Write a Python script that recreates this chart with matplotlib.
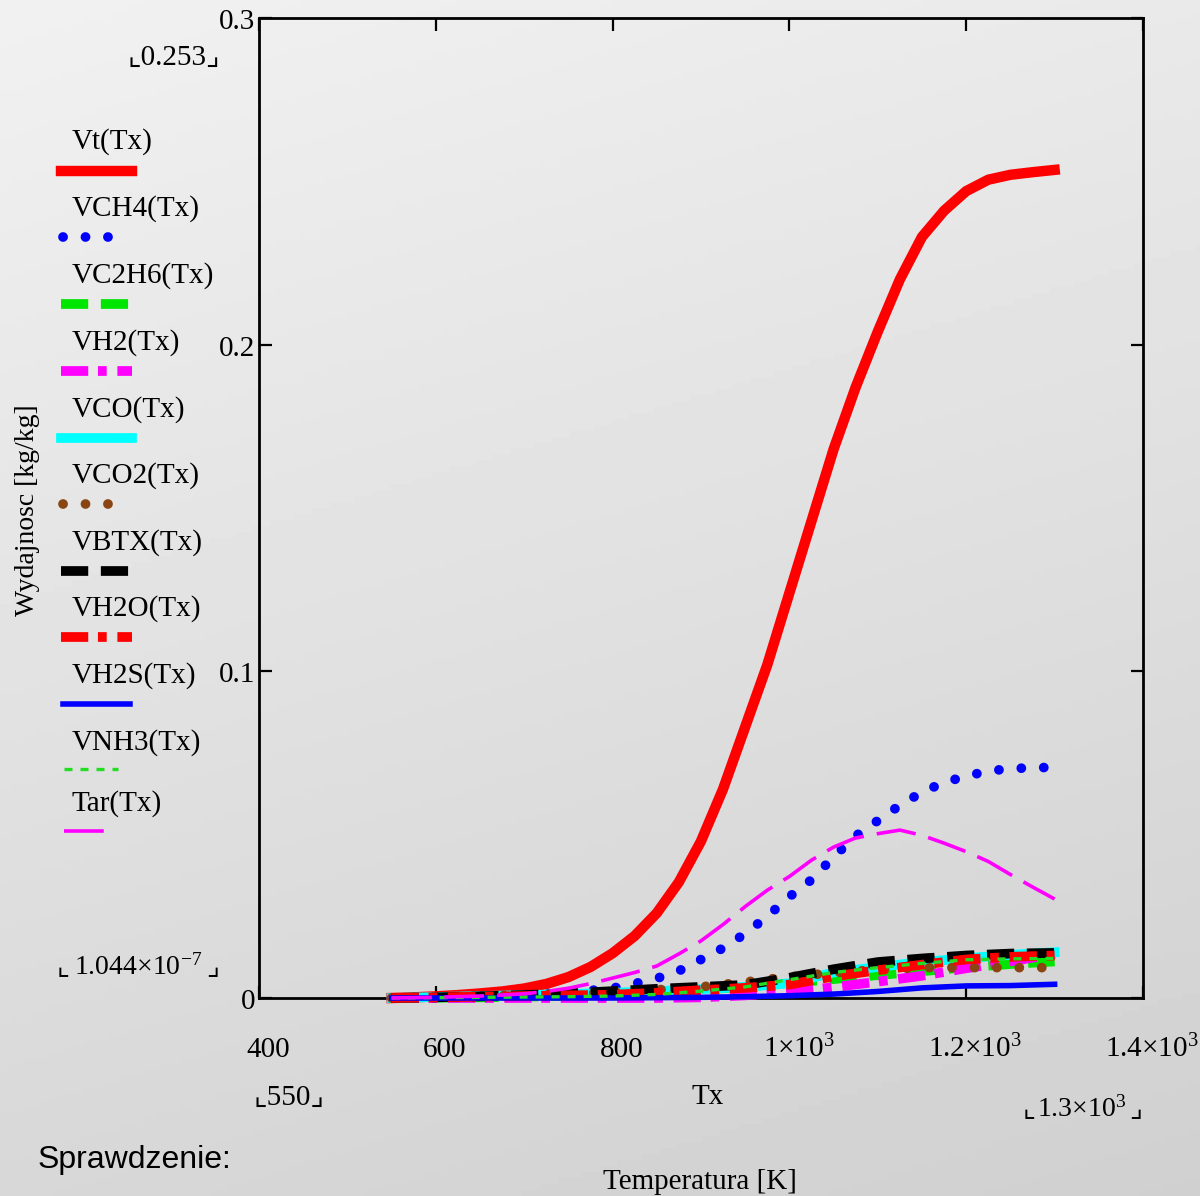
import numpy as np
import matplotlib.pyplot as plt
from matplotlib.lines import Line2D
import matplotlib.transforms as mtransforms

# temperatura [K] - gesta siatka dla glownych krzywych
T_fine = [550, 575, 600, 625, 650, 675, 700, 725, 750, 775, 800, 825, 850, 875, 900,
          925, 950, 975, 1000, 1025, 1050, 1075, 1100, 1125, 1150, 1175, 1200, 1225,
          1250, 1275, 1300]
Vt = [0.0, 0.0002, 0.0005, 0.0009, 0.0014, 0.0020, 0.0029, 0.0043, 0.0064, 0.0095,
      0.0137, 0.0190, 0.0260, 0.0355, 0.0480, 0.0640, 0.0830, 0.1020, 0.1240, 0.1460,
      0.1680, 0.1870, 0.2040, 0.2200, 0.2330, 0.2410, 0.2470, 0.2505, 0.2520, 0.2528,
      0.2535]
VCH4 = [0.0, 0.0001, 0.0002, 0.0003, 0.0005, 0.0007, 0.0010, 0.0013, 0.0017, 0.0023,
        0.0030, 0.0044, 0.0060, 0.0083, 0.0118, 0.0153, 0.0197, 0.0250, 0.0310, 0.0362,
        0.0432, 0.0496, 0.0543, 0.0590, 0.0630, 0.0660, 0.0679, 0.0695, 0.0702, 0.0705,
        0.0706]
Tar = [0.0, 0.0001, 0.0002, 0.0004, 0.0006, 0.0009, 0.0013, 0.0020, 0.0030, 0.0044,
       0.0061, 0.0078, 0.0098, 0.0135, 0.0175, 0.0225, 0.0280, 0.0330, 0.0372, 0.0422,
       0.0462, 0.0490, 0.0503, 0.0514, 0.0498, 0.0474, 0.0448, 0.0418, 0.0378, 0.0340,
       0.0303]

# rzadsza siatka dla pozostalych skladnikow
T_coarse = [550, 600, 650, 700, 750, 800, 850, 900, 950, 1000, 1050, 1100, 1150, 1200,
            1250, 1300]
VC2H6 = [0.0, 0.0001, 0.0002, 0.0004, 0.0007, 0.0011, 0.0017, 0.0025, 0.0035, 0.0046,
         0.0058, 0.0070, 0.0082, 0.0094, 0.0104, 0.0112]
VH2 = [0.0, 0.0, 0.0, 0.0, 0.0, 0.0, 0.0, 0.0002, 0.0008, 0.0018, 0.0033, 0.0050,
       0.0068, 0.0091, 0.0112, 0.0135]
VCO = [0.0, 0.0003, 0.0006, 0.0009, 0.0012, 0.0016, 0.0021, 0.0027, 0.0034, 0.0045,
       0.0078, 0.0095, 0.0110, 0.0122, 0.0132, 0.0140]
VCO2 = [0.0, 0.0003, 0.0006, 0.0009, 0.0013, 0.0017, 0.0025, 0.0034, 0.0049, 0.0065,
        0.0077, 0.0087, 0.0093, 0.0093, 0.0093, 0.0093]
VBTX = [0.0, 0.0002, 0.0005, 0.0009, 0.0014, 0.0021, 0.0028, 0.0034, 0.0040, 0.0062,
        0.0088, 0.0110, 0.0121, 0.0130, 0.0136, 0.0138]
VH2O = [0.0, 0.0002, 0.0004, 0.0006, 0.0008, 0.0010, 0.0016, 0.0024, 0.0031, 0.0041,
        0.0066, 0.0085, 0.0102, 0.0118, 0.0126, 0.0130]
VH2S = [0.0, 0.0, 0.0, 0.0, 0.0, 0.0, 0.0001, 0.0002, 0.0004, 0.0007, 0.0012, 0.0020,
        0.0031, 0.0037, 0.0038, 0.0042]
VNH3 = [0.0, 0.0001, 0.0002, 0.0003, 0.0004, 0.0006, 0.0011, 0.0021, 0.0034, 0.0056,
        0.0078, 0.0093, 0.0106, 0.0117, 0.0120, 0.0121]

x_ticks = [400, 600, 800, 1000, 1200, 1400]
x_tick_labels = ['400', '600', '800', '1×$10^{3}$', '1.2×$10^{3}$', '1.4×$10^{3}$']
y_ticks = [0, 0.1, 0.2, 0.3]
y_tick_labels = ['0', '0.1', '0.2', '0.3']

plt.rcParams['font.family'] = ['Liberation Serif', 'DejaVu Sans']
plt.rcParams['mathtext.fontset'] = 'custom'
plt.rcParams['mathtext.rm'] = 'Liberation Serif'
plt.rcParams['mathtext.it'] = 'Liberation Serif'
plt.rcParams['mathtext.default'] = 'regular'

W, H = 1200, 1196
fig = plt.figure(figsize=(W / 100, H / 100), dpi=100)


def fx(px):
    return px / W


def fy(py):
    return 1 - py / H


# szare tlo jak w Mathcadzie
bg = fig.add_axes([0, 0, 1, 1], zorder=-10)
yy, xx = np.mgrid[0:1:200j, 0:1:200j]
bg.imshow(0.945 - 0.10 * yy - 0.03 * xx, cmap='gray', vmin=0, vmax=1,
          aspect='auto', extent=[0, 1, 0, 1], origin='upper')
bg.axis('off')

ax = fig.add_axes([fx(259), fy(998), (1143 - 259) / W, (998 - 18) / H])
ax.patch.set_alpha(0)

dot = (0, (0.01, 2.3))
series = [
    ('Vt(Tx)', T_fine, Vt, dict(color='#ff0000', lw=7.5, ls='-')),
    ('VCH4(Tx)', T_fine, VCH4, dict(color='#0000ff', lw=7, ls=dot, dash_capstyle='round')),
    ('VC2H6(Tx)', T_coarse, VC2H6, dict(color='#00e600', lw=7, ls=(0, (2.8, 1.3)))),
    ('VH2(Tx)', T_coarse, VH2, dict(color='#ff00ff', lw=7, ls=(0, (2.8, 1.0, 0.9, 1.1)))),
    ('VCO(Tx)', T_coarse, VCO, dict(color='#00ffff', lw=7, ls='-')),
    ('VCO2(Tx)', T_coarse, VCO2, dict(color='#8b4513', lw=7, ls=dot, dash_capstyle='round')),
    ('VBTX(Tx)', T_coarse, VBTX, dict(color='#000000', lw=7, ls=(0, (2.8, 1.3)))),
    ('VH2O(Tx)', T_coarse, VH2O, dict(color='#ff0000', lw=7, ls=(0, (2.8, 1.0, 0.9, 1.1)))),
    ('VH2S(Tx)', T_coarse, VH2S, dict(color='#0000ff', lw=4, ls='-')),
    ('VNH3(Tx)', T_coarse, VNH3, dict(color='#22dd22', lw=2.4, ls=(0, (2.4, 2.4)))),
    ('Tar(Tx)', T_fine, Tar, dict(color='#ff00ff', lw=2.6, ls=(0, (11, 3.6)))),
]

for i, (name, tx, vals, st) in enumerate(series):
    ax.plot(tx, vals, clip_on=False, zorder=3 + i, **st)

ax.set_xlim(400, 1400)
ax.set_ylim(0, 0.3)
ax.set_xticks(x_ticks)
ax.set_yticks(y_ticks)
ax.tick_params(direction='in', length=9, width=1.6, top=True, right=True,
               labelbottom=False, labelleft=False)
for s in ax.spines.values():
    s.set_linewidth(2)

# opisy osi w stylu Mathcada
tr_x = mtransforms.offset_copy(ax.get_xaxis_transform(), fig=fig, x=9, y=0, units='dots')
for v, lab in zip(x_ticks, x_tick_labels):
    ax.text(v, -0.06, lab, transform=tr_x, ha='center', va='baseline', fontsize=21)
tr_y = mtransforms.offset_copy(ax.get_yaxis_transform(), fig=fig, x=-4, y=-4, units='dots')
for v, lab in zip(y_ticks, y_tick_labels):
    ax.text(0, v, lab, transform=tr_y, ha='right', va='center', fontsize=21)

# legenda: nazwa nad probka linii
label_y = [142, 209, 276, 343, 410, 476, 543, 609, 676, 743, 804]
sample_y = [171, 237, 304, 371, 438, 504, 571, 637, 704, 769, 831]
sample_x = [(61, 132), (63, 112), (61, 132), (61, 132), (61, 132), (63, 112),
            (61, 132), (61, 132), (63, 130), (64, 118), (64, 108)]
for (name, tx, vals, st), ly, sy, (x0, x1) in zip(series, label_y, sample_y, sample_x):
    fig.text(fx(72), fy(ly), name, ha='left', va='center', fontsize=21)
    fig.add_artist(Line2D([fx(x0), fx(x1)], [fy(sy), fy(sy)],
                          transform=fig.transFigure, **st))

fig.text(fx(28), fy(510), 'Wydajnosc [kg/kg]', rotation=90, ha='center', va='center',
         fontsize=20)
fig.text(fx(174), fy(58), '⌞0.253⌟', ha='center', va='center', fontsize=21)
fig.text(fx(289), fy(1098), '⌞550⌟', ha='center', va='center', fontsize=21)

# znaczniki zakresu z wykladnikiem: nawiasy osobno (mathtext nie ma tych znakow)
fig.text(fx(138), fy(975), '1.044×$10^{-7}$', ha='center', va='baseline', fontsize=20)
fig.text(fx(63), fy(975), '⌞', ha='center', va='baseline', fontsize=20)
fig.text(fx(213), fy(975), '⌟', ha='center', va='baseline', fontsize=20)
fig.text(fx(1082), fy(1117), '1.3×$10^{3}$', ha='center', va='baseline', fontsize=20)
fig.text(fx(1029), fy(1117), '⌞', ha='center', va='baseline', fontsize=20)
fig.text(fx(1136), fy(1117), '⌟', ha='center', va='baseline', fontsize=20)

fig.text(fx(708), fy(1097), 'Tx', ha='center', va='center', fontsize=21)
fig.text(fx(700), fy(1182), 'Temperatura [K]', ha='center', va='center', fontsize=21)
fig.text(fx(38), fy(1160), 'Sprawdzenie:', ha='left', va='center', fontsize=23,
         family='Liberation Sans')

fig.savefig('out.png', dpi=100)
